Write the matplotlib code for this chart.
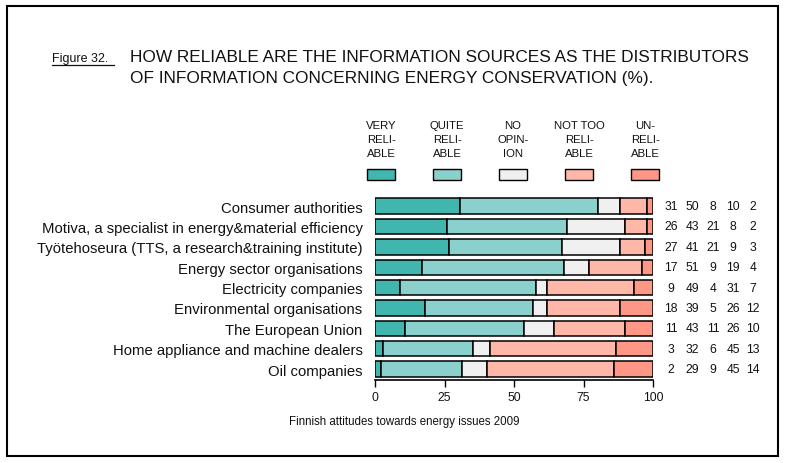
import matplotlib.pyplot as plt
import numpy as np
from matplotlib.patches import Rectangle
from matplotlib.lines import Line2D

plt.rcParams['font.family'] = ['Liberation Sans', 'DejaVu Sans']

# data (percent)
sources = ['Consumer authorities',
           'Motiva, a specialist in energy&material efficiency',
           'Työtehoseura (TTS, a research&training institute)',
           'Energy sector organisations',
           'Electricity companies',
           'Environmental organisations',
           'The European Union',
           'Home appliance and machine dealers',
           'Oil companies']
very_reliable  = [31, 26, 27, 17, 9, 18, 11, 3, 2]
quite_reliable = [50, 43, 41, 51, 49, 39, 43, 32, 29]
no_opinion     = [8, 21, 21, 9, 4, 5, 11, 6, 9]
not_too        = [10, 8, 9, 19, 31, 26, 26, 45, 45]
unreliable     = [2, 2, 3, 4, 7, 12, 10, 13, 14]
legend_labels = ['VERY\nRELI-\nABLE', 'QUITE\nRELI-\nABLE', 'NO\nOPIN-\nION',
                 'NOT TOO\nRELI-\nABLE', 'UN-\nRELI-\nABLE']
colors = ['#40B6AE', '#8AD0CD', '#F0F0F0', '#FFB7A8', '#FF9787']

W, H = 785, 464
fig = plt.figure(figsize=(W / 100, H / 100), dpi=100)


def px(x, y):
    return x / W, 1 - y / H


# outer frame
fig.patches.append(Rectangle(px(7, 457), 771 / W, 450 / H, transform=fig.transFigure,
                             fill=False, edgecolor='black', linewidth=1.5))

# titles
fig.text(*px(52, 59), 'Figure 32.', fontsize=9, ha='left', va='center', color='#111111')
fig.lines.append(Line2D([52 / W, 114 / W], [1 - 66 / H, 1 - 66 / H], transform=fig.transFigure,
                        color='#111111', linewidth=0.9))
fig.text(*px(130, 58), 'HOW RELIABLE ARE THE INFORMATION SOURCES AS THE DISTRIBUTORS',
         fontsize=12.4, ha='left', va='center', color='#111111')
fig.text(*px(130, 78), 'OF INFORMATION CONCERNING ENERGY CONSERVATION (%).',
         fontsize=12.4, ha='left', va='center', color='#111111')

# main axes
ax = fig.add_axes([375 / W, 1 - 381 / H, 278 / W, 186 / H])
series = np.array([very_reliable, quite_reliable, no_opinion, not_too, unreliable], dtype=float)
shares = series / series.sum(axis=0) * 100
ypos = np.arange(len(sources))
left = np.zeros(len(sources))
for vals, c in zip(shares, colors):
    ax.barh(ypos, vals, left=left, height=0.76, color=c, edgecolor='black', linewidth=1.1)
    left += vals

ax.set_ylim(8.54, -0.6)
ax.set_xlim(0, 100)
ax.set_yticks(ypos)
ax.set_yticklabels(sources, fontsize=10.75, color='#111111')
ax.tick_params(axis='y', length=0, pad=9)
ax.set_xticks([0, 25, 50, 75, 100])
ax.tick_params(axis='x', length=5, width=1, labelsize=8.7, pad=3, labelcolor='#111111')
for s in ['top', 'right', 'left']:
    ax.spines[s].set_visible(False)
ax.spines['bottom'].set_linewidth(1.2)
ax.spines['bottom'].set_bounds(0, 100)

# value columns on the right
col_x = [671, 692, 713, 733, 753]
for j in range(len(sources)):
    for i, cx in enumerate(col_x):
        fig.text(cx / W, 1 - (207 + 20.4 * j) / H, f'{int(series[i, j])}',
                 fontsize=8.7, ha='center', va='center', color='#111111')

# legend
leg_x = [381, 447, 513, 579, 645]
for lx, lab, c in zip(leg_x, legend_labels, colors):
    fig.text(*px(lx, 140), lab, fontsize=8.2, ha='center', va='center',
             linespacing=1.5, color='#111111')
    fig.patches.append(Rectangle(px(lx - 14, 181), 28 / W, 11 / H, transform=fig.transFigure,
                                 facecolor=c, edgecolor='black', linewidth=1))

fig.text(*px(404, 422), 'Finnish attitudes towards energy issues 2009', fontsize=8.3,
         ha='center', va='center', color='#111111')

fig.savefig('out.png', dpi=100)
